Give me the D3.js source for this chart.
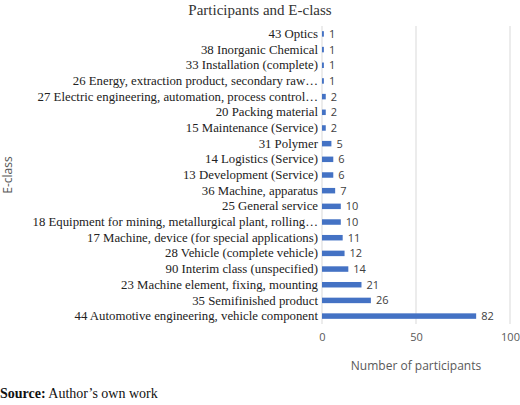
<!DOCTYPE html>
<html><head><meta charset="utf-8">
<script src="https://cdn.jsdelivr.net/npm/d3@7"></script>
<style>body{margin:0;background:#fff}</style>
</head><body><div id="chart"></div>
<script>
const categories = ["43 Optics","38 Inorganic Chemical","33 Installation (complete)","26 Energy, extraction product, secondary raw…","27 Electric engineering, automation, process control…","20 Packing material","15 Maintenance (Service)","31 Polymer","14 Logistics (Service)","13 Development (Service)","36 Machine, apparatus","25 General service","18 Equipment for mining, metallurgical plant, rolling…","17 Machine, device (for special applications)","28 Vehicle (complete vehicle)","90 Interim class (unspecified)","23 Machine element, fixing, mounting","35 Semifinished product","44 Automotive engineering, vehicle component"];
const values = [1,1,1,1,2,2,2,5,6,6,7,10,10,11,12,14,21,26,82];
const ticks = [0,50,100];

const svg = d3.select("#chart").append("svg").attr("width",520).attr("height",405);
const x = d3.scaleLinear().domain([0,100]).range([322,510]);
const y = d3.scaleBand().domain(categories).range([26,324]).paddingInner(0.65).paddingOuter(0.33);

svg.append("text").attr("x",260).attr("y",15).attr("text-anchor","middle")
  .style("font-family","Liberation Serif").style("font-size","15px").attr("fill","#333").text("Participants and E-class");

svg.selectAll(".grid").data(ticks).enter().append("line")
  .attr("x1",d=>x(d)).attr("x2",d=>x(d)).attr("y1",26).attr("y2",324)
  .attr("stroke","#d9d9d9").attr("stroke-width",1);

svg.selectAll(".bar").data(values).enter().append("rect")
  .attr("x",x(0)).attr("y",(d,i)=>y(categories[i])).attr("width",d=>x(d)-x(0))
  .attr("height",y.bandwidth()).attr("fill","#4472c4");

svg.selectAll(".val").data(values).enter().append("text")
  .attr("x",d=>x(d)+5).attr("y",(d,i)=>y(categories[i])+y.bandwidth()/2+4)
  .style("font-family","Open Sans").style("font-size","11px").attr("fill","#404040").text(d=>d);

const ya = svg.append("g").attr("transform",`translate(${x(0)-4},0)`)
  .call(d3.axisLeft(y).tickSize(0).tickPadding(0));
ya.select(".domain").remove();
ya.selectAll("text").style("font-family","Liberation Serif").style("font-size","12.8px").attr("fill","#222");

const xa = svg.append("g").attr("transform","translate(0,330)")
  .call(d3.axisBottom(x).tickValues(ticks).tickSize(0).tickPadding(3));
xa.select(".domain").remove();
xa.selectAll("text").style("font-family","Open Sans").style("font-size","11px").attr("fill","#595959");

svg.append("text").attr("x",x(50)).attr("y",370).attr("text-anchor","middle")
  .style("font-family","Open Sans").style("font-size","12px").attr("fill","#595959").text("Number of participants");
svg.append("text").attr("transform","translate(12,175) rotate(-90)").attr("text-anchor","middle")
  .style("font-family","Open Sans").style("font-size","12px").attr("fill","#595959").text("E-class");

const src = svg.append("text").attr("x",0).attr("y",398).style("font-family","Liberation Serif").style("font-size","14px").attr("fill","#111");
src.append("tspan").style("font-weight","bold").text("Source:");
src.append("tspan").text(" Author’s own work");
</script></body></html>
